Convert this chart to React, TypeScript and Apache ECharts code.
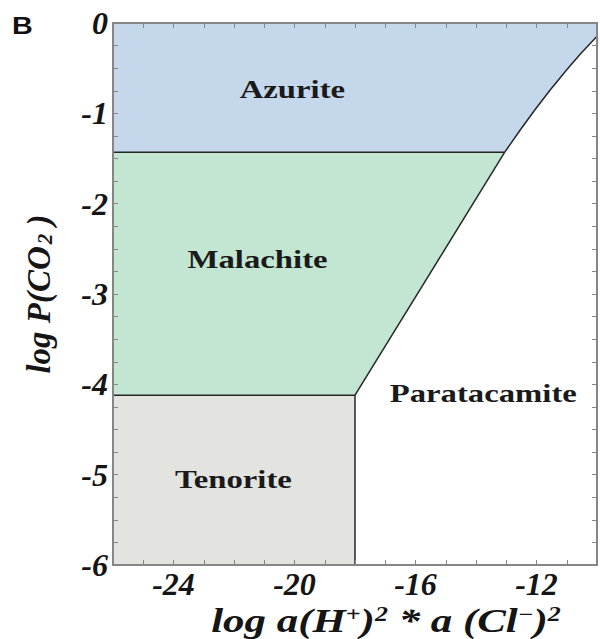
import React, { useEffect, useRef } from "react";
import * as echarts from "echarts";

// Axis ranges
const xMin = -26;
const xMax = -10;
const yMin = -6;
const yMax = 0;
const xMajorTicks = [-24, -20, -16, -12];

// Stability field polygons (x = log a(H+)^2*a(Cl-)^2, y = log P(CO2))
const azuritePolygon = [
  [-26, 0], [-10, 0], [-10, -0.147], [-10.14, -0.196], [-10.55, -0.344], [-11.0, -0.517],
  [-11.53, -0.734], [-12.07, -0.969], [-12.55, -1.19], [-13.05, -1.43], [-26, -1.43],
];
const malachitePolygon = [[-26, -1.43], [-13.05, -1.43], [-18, -4.12], [-26, -4.12]];
const tenoritePolygon = [[-26, -4.12], [-18, -4.12], [-18, -6], [-26, -6]];

// Boundary lines
const azuriteMalachiteLine = [[-26, -1.43], [-13.05, -1.43]];
const azuriteParatacamiteLine = [
  [-13.05, -1.43], [-12.55, -1.19], [-12.07, -0.969], [-11.53, -0.734], [-11.0, -0.517],
  [-10.55, -0.344], [-10.14, -0.196], [-10, -0.147],
];
const malachiteParatacamiteLine = [[-13.05, -1.43], [-18, -4.12]];
const malachiteTenoriteLine = [[-26, -4.12], [-18, -4.12]];
const tenoriteParatacamiteLine = [[-18, -4.12], [-18, -6]];

// Field labels
const fieldNames = ["Azurite", "Malachite", "Tenorite", "Paratacamite"];
const fieldLabelX = [-20.07, -21.22, -22.02, -13.76];
const fieldLabelY = [-0.73, -2.62, -5.05, -4.1];

const SERIF = "'Liberation Serif', 'Times New Roman', serif";
const AXIS_GRAY = "#868686";
const TEXT = "#151515";

export default function App() {
  const ref = useRef<HTMLDivElement>(null);

  useEffect(() => {
    if (!ref.current) return;
    const chart = echarts.init(ref.current, undefined, { renderer: "svg" });

    const polygonSeries = (poly: number[][], color: string) => ({
      type: "custom",
      xAxisIndex: 0,
      yAxisIndex: 0,
      silent: true,
      z: 1,
      data: [[poly[0][0], poly[0][1]]],
      renderItem: (_params: any, api: any) => ({
        type: "polygon",
        shape: { points: poly.map((p) => api.coord(p)) },
        style: { fill: color, stroke: "none" },
      }),
    });

    const lineSeries = (pts: number[][]) => ({
      type: "line",
      xAxisIndex: 0,
      yAxisIndex: 0,
      data: pts,
      symbol: "none",
      silent: true,
      z: 3,
      lineStyle: { color: "#262626", width: 1.5 },
    });

    const xAxisBase = {
      type: "value",
      min: xMin,
      max: xMax,
      interval: 1,
      z: 10,
      splitLine: { show: false },
      axisLine: { show: true, onZero: false, lineStyle: { color: AXIS_GRAY, width: 2 } },
      axisTick: { show: true, inside: true, length: 5, lineStyle: { color: AXIS_GRAY, width: 1 } },
    };
    const yAxisBase = {
      type: "value",
      min: yMin,
      max: yMax,
      interval: 0.25,
      z: 10,
      splitLine: { show: false },
      axisLine: { show: true, onZero: false, lineStyle: { color: AXIS_GRAY, width: 2 } },
      axisTick: { show: true, inside: true, length: 5, lineStyle: { color: AXIS_GRAY, width: 1 } },
    };
    const tickFont = {
      fontFamily: SERIF,
      fontWeight: "bold",
      fontStyle: "italic",
      fontSize: 32,
      color: TEXT,
    };

    chart.setOption({
      animation: false,
      backgroundColor: "#ffffff",
      grid: { left: 113, right: -2, top: 23, bottom: 74, containLabel: false },
      xAxis: [
        {
          ...xAxisBase,
          position: "bottom",
          axisLabel: {
            ...tickFont,
            margin: 3,
            formatter: (v: number) => (xMajorTicks.indexOf(v) >= 0 ? String(v) : ""),
          },
        },
        { ...xAxisBase, position: "top", axisLabel: { show: false } },
      ],
      yAxis: [
        {
          ...yAxisBase,
          position: "left",
          name: "{m|log P(CO}{b|2}{m| )}",
          nameLocation: "middle",
          nameRotate: 90,
          nameGap: 58,
          nameTextStyle: {
            color: TEXT,
            rich: {
              m: { fontFamily: SERIF, fontWeight: "bold", fontStyle: "italic", fontSize: 33, color: TEXT },
              b: {
                fontFamily: SERIF, fontWeight: "bold", fontStyle: "italic", fontSize: 21,
                color: TEXT, verticalAlign: "bottom", padding: [12, 0, 0, 2],
              },
            },
          },
          axisLabel: {
            ...tickFont,
            margin: 5,
            formatter: (v: number) => (Number.isInteger(v) ? String(v) : ""),
          },
        },
        { ...yAxisBase, position: "right", axisLabel: { show: false } },
      ],
      graphic: [
        {
          type: "text",
          x: 12,
          y: 26,
          scaleX: 1.25,
          style: {
            text: "B",
            font: "bold 23px 'Liberation Sans', Arial, sans-serif",
            fill: "#111111",
            verticalAlign: "middle",
          },
        },
        {
          type: "text",
          x: 386,
          y: 621,
          scaleX: 1.3,
          style: {
            text: "{m|log a(H}{s|+}{m|)}{s|2}{m| * a (Cl}{s|−}{m|)}{s|2}",
            fill: TEXT,
            align: "center",
            verticalAlign: "middle",
            rich: {
              m: { font: `italic bold 33px ${SERIF}`, fill: TEXT, fontFamily: SERIF, fontWeight: "bold", fontStyle: "italic", fontSize: 33, color: TEXT },
              s: {
                font: `italic bold 20px ${SERIF}`, fontFamily: SERIF, fontWeight: "bold", fontStyle: "italic",
                fontSize: 20, fill: TEXT, color: TEXT, verticalAlign: "top",
              },
            },
          },
        },
      ],
      series: [
        polygonSeries(azuritePolygon, "#c5d7ea"),
        polygonSeries(malachitePolygon, "#c2e6d2"),
        polygonSeries(tenoritePolygon, "#e3e4e0"),
        lineSeries(azuriteMalachiteLine),
        lineSeries(azuriteParatacamiteLine),
        lineSeries(malachiteParatacamiteLine),
        lineSeries(malachiteTenoriteLine),
        lineSeries(tenoriteParatacamiteLine),
        {
          type: "custom",
          xAxisIndex: 0,
          yAxisIndex: 0,
          silent: true,
          z: 5,
          data: fieldNames.map((_, i) => [fieldLabelX[i], fieldLabelY[i]]),
          renderItem: (params: any, api: any) => {
            const p = api.coord([api.value(0), api.value(1)]);
            return {
              type: "text",
              x: p[0],
              y: p[1],
              scaleX: 1.31,
              style: {
                text: fieldNames[params.dataIndex],
                font: `bold 25px ${SERIF}`,
                fill: "#1a1a1a",
                align: "center",
                verticalAlign: "middle",
              },
            };
          },
        },
      ],
    });

    return () => chart.dispose();
  }, []);

  return (
    <div
      ref={ref}
      style={{ position: "fixed", left: 0, top: 0, width: 600, height: 639 }}
    />
  );
}
